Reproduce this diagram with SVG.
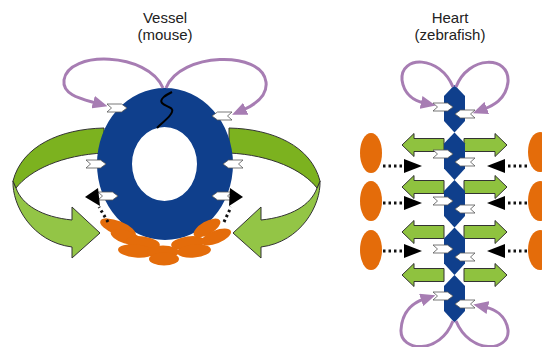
<svg xmlns="http://www.w3.org/2000/svg" xmlns:xlink="http://www.w3.org/1999/xlink" width="542" height="347" viewBox="0 0 542 347">
  <style>
    .title { font-family: "Liberation Sans", Arial, sans-serif; font-size: 15px; fill: #222; text-anchor: middle; }
    .loop { fill: none; stroke: #a77db3; stroke-width: 3; marker-end: url(#purpleHead); }
    .dots { fill: none; stroke: #111; stroke-width: 3; stroke-dasharray: 2.5 3; }
    .tri { fill: #000; }
    .cell { fill: #e46c0a; }
    .wall { fill: #0f3f8c; }
    .garrow { fill: #8fc23f; stroke: #333; stroke-width: 1; stroke-linejoin: miter; }
    .gdark { fill: #7cb21f; stroke: #333; stroke-width: 1; }
    .glight { fill: #93c546; stroke: #333; stroke-width: 1; }
    .rec { fill: #fff; stroke: #555; stroke-width: 0.8; }
  </style>
  <defs>
    <marker id="purpleHead" viewBox="0 0 15 13" refX="3" refY="6.5" markerWidth="15" markerHeight="13" markerUnits="userSpaceOnUse" orient="auto" preserveAspectRatio="none">
      <path d="M0,0 L15,6.5 L0,13 Z" fill="#a77db3"/>
    </marker>
    <!-- receptor chevron, pointing right, centred on origin -->
    <path id="chev" class="rec" d="M-10,-4 H4.5 L10,0 L4.5,4 H-10 L-5.5,0 Z"/>
    <!-- green arrows, centred vertically on origin -->
    <path id="gLeft" class="garrow" d="M402,0 L414,-11.5 L414,-6.5 L444,-6.5 L444,6.5 L414,6.5 L414,11.5 Z"/>
    <path id="gRight" class="garrow" d="M507,0 L495,-11.5 L495,-6.5 L464,-6.5 L464,6.5 L495,6.5 L495,11.5 Z"/>
    <!-- curved twisted ribbon arrow (left side) -->
    <g id="ribbon">
      <path class="glight" d="M13,181 C12,205 32,242 72,247 L72,258 L100,233 L72,207 L72,220 C42,217 22,205 16,188 Z"/>
      <path class="gdark" d="M104,128 C60,129 22,146 13,181 L16,188 C30,170 62,155 104,153 Z"/>
    </g>
    <path id="hex" class="wall" d="M454.5,0 L465,11 L465,36 L454.5,47.5 L444,36 L444,11 Z"/>
  </defs>

  <!-- titles -->
  <g id="title-vessel">
    <text class="title" x="165" y="23">Vessel</text>
    <text class="title" x="165" y="40">(mouse)</text>
  </g>
  <g id="title-heart">
    <text class="title" x="450" y="23">Heart</text>
    <text class="title" x="450" y="40">(zebrafish)</text>
  </g>

  <!-- ===== Vessel ===== -->
  <g id="vessel-flow">
    <use xlink:href="#ribbon"/>
    <use xlink:href="#ribbon" transform="translate(333,0) scale(-1,1)"/>
  </g>

  <g id="vessel-wall">
    <path class="wall" fill-rule="evenodd" d="M97,164 A68,76 0 1,0 233,164 A68,76 0 1,0 97,164 Z M132,164 A32.5,37 0 1,0 197,164 A32.5,37 0 1,0 132,164 Z"/>
    <path d="M172,92 C166,95 159,99 162,103 C166,107 174,107 172,112 C170,118 162,122 157,128" fill="none" stroke="#000" stroke-width="2"/>
  </g>

  <g id="vessel-cells">
    <ellipse class="cell" cx="118" cy="228" rx="19" ry="7" transform="rotate(22 118 228)"/>
    <ellipse class="cell" cx="126" cy="237" rx="16" ry="6.5" transform="rotate(18 126 237)"/>
    <ellipse class="cell" cx="143" cy="243" rx="17" ry="6.5" transform="rotate(8 143 243)"/>
    <ellipse class="cell" cx="136" cy="251" rx="18" ry="6.5" transform="rotate(5 136 251)"/>
    <ellipse class="cell" cx="188" cy="243" rx="17" ry="6.5" transform="rotate(-8 188 243)"/>
    <ellipse class="cell" cx="194" cy="251" rx="17" ry="6.5" transform="rotate(-5 194 251)"/>
    <ellipse class="cell" cx="163" cy="252" rx="16" ry="6.5"/>
    <ellipse class="cell" cx="164" cy="259" rx="15" ry="6.5"/>
    <ellipse class="cell" cx="207" cy="228" rx="15" ry="6.5" transform="rotate(-30 207 228)"/>
    <ellipse class="cell" cx="216" cy="237" rx="16" ry="6.5" transform="rotate(-22 216 237)"/>
  </g>

  <g id="vessel-receptors">
    <use xlink:href="#chev" transform="translate(117,108)"/>
    <use xlink:href="#chev" transform="translate(222,116) scale(-1,1)"/>
    <use xlink:href="#chev" transform="translate(96,164)"/>
    <use xlink:href="#chev" transform="translate(233,164) scale(-1,1)"/>
    <use xlink:href="#chev" transform="translate(108,196)"/>
    <use xlink:href="#chev" transform="translate(222,196) scale(-1,1)"/>
  </g>

  <!-- ===== Heart ===== -->
  <g id="heart-flow">
    <use xlink:href="#gLeft" transform="translate(0,145)"/>
    <use xlink:href="#gRight" transform="translate(0,145)"/>
    <use xlink:href="#gLeft" transform="translate(0,187)"/>
    <use xlink:href="#gRight" transform="translate(0,187)"/>
    <use xlink:href="#gLeft" transform="translate(0,232)"/>
    <use xlink:href="#gRight" transform="translate(0,232)"/>
    <use xlink:href="#gLeft" transform="translate(0,275)"/>
    <use xlink:href="#gRight" transform="translate(0,275)"/>
  </g>

  <g id="heart-wall">
    <use xlink:href="#hex" transform="translate(0,85)"/>
    <use xlink:href="#hex" transform="translate(0,132.5)"/>
    <use xlink:href="#hex" transform="translate(0,180)"/>
    <use xlink:href="#hex" transform="translate(0,227.5)"/>
    <use xlink:href="#hex" transform="translate(0,275)"/>
  </g>

  <g id="heart-receptors">
    <use xlink:href="#chev" transform="translate(443,107)"/>
    <use xlink:href="#chev" transform="translate(465,114) scale(-1,1)"/>
    <use xlink:href="#chev" transform="translate(443,154)"/>
    <use xlink:href="#chev" transform="translate(465,162) scale(-1,1)"/>
    <use xlink:href="#chev" transform="translate(443,201)"/>
    <use xlink:href="#chev" transform="translate(465,209) scale(-1,1)"/>
    <use xlink:href="#chev" transform="translate(443,249)"/>
    <use xlink:href="#chev" transform="translate(465,257) scale(-1,1)"/>
    <use xlink:href="#chev" transform="translate(443,296)"/>
    <use xlink:href="#chev" transform="translate(465,304) scale(-1,1)"/>
  </g>

  <g id="heart-cells-left">
    <ellipse class="cell" cx="371" cy="153" rx="11" ry="20"/>
    <ellipse class="cell" cx="371" cy="201" rx="11" ry="20"/>
    <ellipse class="cell" cx="371" cy="250" rx="11" ry="20"/>
  </g>
  <g id="heart-cells-right">
    <ellipse class="cell" cx="540" cy="152" rx="12" ry="20"/>
    <ellipse class="cell" cx="540" cy="201" rx="12" ry="20"/>
    <ellipse class="cell" cx="540" cy="250" rx="12" ry="20"/>
  </g>

  <!-- signalling connectors -->
  <g id="connectors">
    <!-- autocrine loops, vessel -->
    <path class="loop" d="M163,88 C148,52 68,50 64,80 C62,95 82,99 96,103"/>
    <path class="loop" d="M166,88 C180,52 262,50 266,82 C268,98 252,106 243,110"/>
    <!-- autocrine loops, heart -->
    <path class="loop" d="M453,87 C440,55 400,55 402,80 C404,95 415,101 424,103"/>
    <path class="loop" d="M456,87 C468,55 510,55 508,82 C506,100 492,106 484,109"/>
    <path class="loop" d="M453,321 C440,355 400,352 401,330 C402,310 415,302 424,299"/>
    <path class="loop" d="M456,321 C470,355 510,352 508,330 C506,315 494,309 485,307"/>

    <!-- paracrine dotted arrows, vessel -->
    <path class="dots" d="M108,222 L99,207"/>
    <polygon class="tri" points="85,197 98,188 100,206"/>
    <path class="dots" d="M224,222 L231,207"/>
    <polygon class="tri" points="243,197 230,188 229,206"/>

    <!-- paracrine dotted arrows, heart -->
    <path class="dots" d="M383,166 H404"/>
    <polygon class="tri" points="404,159 422,166 404,173"/>
    <path class="dots" d="M527,166 H505"/>
    <polygon class="tri" points="505,159 487,166 505,173"/>
    <path class="dots" d="M383,203 H404"/>
    <polygon class="tri" points="404,196 422,203 404,210"/>
    <path class="dots" d="M527,203 H505"/>
    <polygon class="tri" points="505,196 487,203 505,210"/>
    <path class="dots" d="M383,251 H404"/>
    <polygon class="tri" points="404,244 422,251 404,258"/>
    <path class="dots" d="M527,251 H505"/>
    <polygon class="tri" points="505,244 487,251 505,258"/>
  </g>
</svg>
